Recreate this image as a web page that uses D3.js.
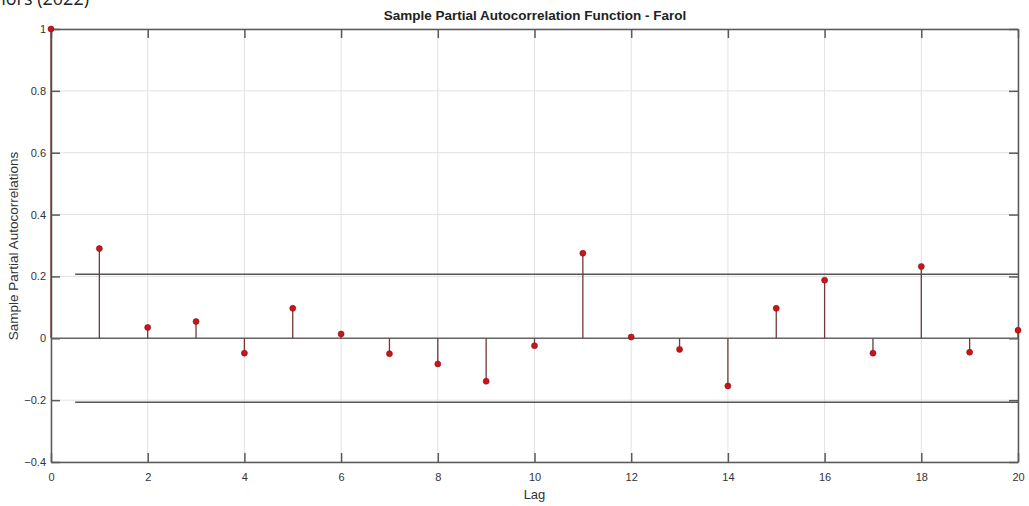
<!DOCTYPE html>
<html>
<head>
<meta charset="utf-8">
<script src="https://cdn.jsdelivr.net/npm/d3@7"></script>
<style>
  body { margin: 0; background: #fff; }
  svg { display: block; }
</style>
</head>
<body>
<div id="chart"></div>
<script>
// 資料
const lags = [0, 1, 2, 3, 4, 5, 6, 7, 8, 9, 10, 11, 12, 13, 14, 15, 16, 17, 18, 19, 20];
const pacf = [1, 0.29, 0.035, 0.054, -0.048, 0.097, 0.014, -0.05, -0.083, -0.139, -0.024, 0.275,
  0.004, -0.036, -0.154, 0.097, 0.188, -0.048, 0.232, -0.045, 0.026];
const bound = 0.207; // 信賴區間
const xTicks = [0, 2, 4, 6, 8, 10, 12, 14, 16, 18, 20];
const yTicks = [-0.4, -0.2, 0, 0.2, 0.4, 0.6, 0.8, 1];

const width = 1029, height = 506;
const margin = { left: 51, right: 11, top: 29, bottom: 44 };

const svg = d3.select("#chart").append("svg")
  .attr("width", width)
  .attr("height", height);

const x = d3.scaleLinear().domain([0, 20]).range([margin.left, width - margin.right]);
const y = d3.scaleLinear().domain([-0.4, 1]).range([height - margin.bottom, margin.top]);

const axisColor = "#5a5a5a";
const font = "Liberation Sans, Arial, sans-serif";

// 網格線
svg.append("g").selectAll("line.vg")
  .data(xTicks)
  .enter().append("line")
  .attr("x1", (d) => x(d)).attr("x2", (d) => x(d))
  .attr("y1", y(1)).attr("y2", y(-0.4))
  .attr("stroke", "#e2e2e2").attr("stroke-width", 1);
svg.append("g").selectAll("line.hg")
  .data(yTicks)
  .enter().append("line")
  .attr("x1", x(0)).attr("x2", x(20))
  .attr("y1", (d) => y(d)).attr("y2", (d) => y(d))
  .attr("stroke", "#e2e2e2").attr("stroke-width", 1);

// 座標軸
const xAxis = svg.append("g")
  .attr("transform", `translate(0,${y(-0.4)})`)
  .call(d3.axisBottom(x).tickValues(xTicks).tickSizeInner(-9).tickSizeOuter(0).tickPadding(13));
const xAxisTop = svg.append("g")
  .attr("transform", `translate(0,${y(1)})`)
  .call(d3.axisTop(x).tickValues(xTicks).tickSizeInner(-9).tickSizeOuter(0).tickFormat(""));
const yAxis = svg.append("g")
  .attr("transform", `translate(${x(0)},0)`)
  .call(d3.axisLeft(y).tickValues(yTicks).tickSizeInner(-9).tickSizeOuter(0).tickPadding(5)
    .tickFormat((d) => d3.format("~g")(d)));
const yAxisRight = svg.append("g")
  .attr("transform", `translate(${x(20)},0)`)
  .call(d3.axisRight(y).tickValues(yTicks).tickSizeInner(-9).tickSizeOuter(0).tickFormat(""));

[xAxis, xAxisTop, yAxis, yAxisRight].forEach((g) => {
  g.select(".domain").attr("stroke", axisColor).attr("stroke-width", 1.5);
  g.selectAll(".tick line").attr("stroke", axisColor).attr("stroke-width", 1.5);
  g.selectAll(".tick text")
    .attr("font-family", font)
    .attr("font-size", "11px")
    .attr("fill", "#333");
});
xAxis.selectAll(".tick text").attr("dy", "0.5em");

// 零線與信賴界線
svg.append("line")
  .attr("x1", x(0)).attr("x2", x(20))
  .attr("y1", y(0)).attr("y2", y(0))
  .attr("stroke", "#666").attr("stroke-width", 1.5);
svg.append("g").selectAll("line.bound")
  .data([bound, -bound])
  .enter().append("line")
  .attr("x1", x(0.5)).attr("x2", x(20))
  .attr("y1", (d) => y(d)).attr("y2", (d) => y(d))
  .attr("stroke", "#555").attr("stroke-width", 1.5);

// 莖線
svg.append("g").selectAll("line.stem")
  .data(lags)
  .enter().append("line")
  .attr("x1", (d) => x(d)).attr("x2", (d) => x(d))
  .attr("y1", y(0)).attr("y2", (d, i) => y(pacf[i]))
  .attr("stroke", "#6e3a3a").attr("stroke-width", 1.3);

// 點
svg.append("g").selectAll("circle")
  .data(lags)
  .enter().append("circle")
  .attr("cx", (d) => x(d))
  .attr("cy", (d, i) => y(pacf[i]))
  .attr("r", 3)
  .attr("fill", "#c8141a")
  .attr("stroke", "#8a1010")
  .attr("stroke-width", 0.6);

// 標題與軸標籤
svg.append("text")
  .attr("x", 535)
  .attr("y", 20)
  .attr("text-anchor", "middle")
  .attr("font-family", font)
  .attr("font-size", "13.5px")
  .attr("font-weight", "bold")
  .attr("fill", "#222")
  .text("Sample Partial Autocorrelation Function - Farol");

svg.append("text")
  .attr("x", (x(0) + x(20)) / 2)
  .attr("y", 499)
  .attr("text-anchor", "middle")
  .attr("font-family", font)
  .attr("font-size", "13px")
  .attr("fill", "#333")
  .text("Lag");

svg.append("text")
  .attr("transform", `translate(18,246) rotate(-90)`)
  .attr("text-anchor", "middle")
  .attr("font-family", font)
  .attr("font-size", "13.5px")
  .attr("fill", "#333")
  .text("Sample Partial Autocorrelations");

// 左上角被裁切的來源文字
svg.append("text")
  .attr("x", 89)
  .attr("y", 5)
  .attr("text-anchor", "end")
  .attr("font-family", "Open Sans, sans-serif")
  .attr("font-size", "18px")
  .attr("fill", "#222")
  .text("Source: Authors (2022)");
</script>
</body>
</html>
